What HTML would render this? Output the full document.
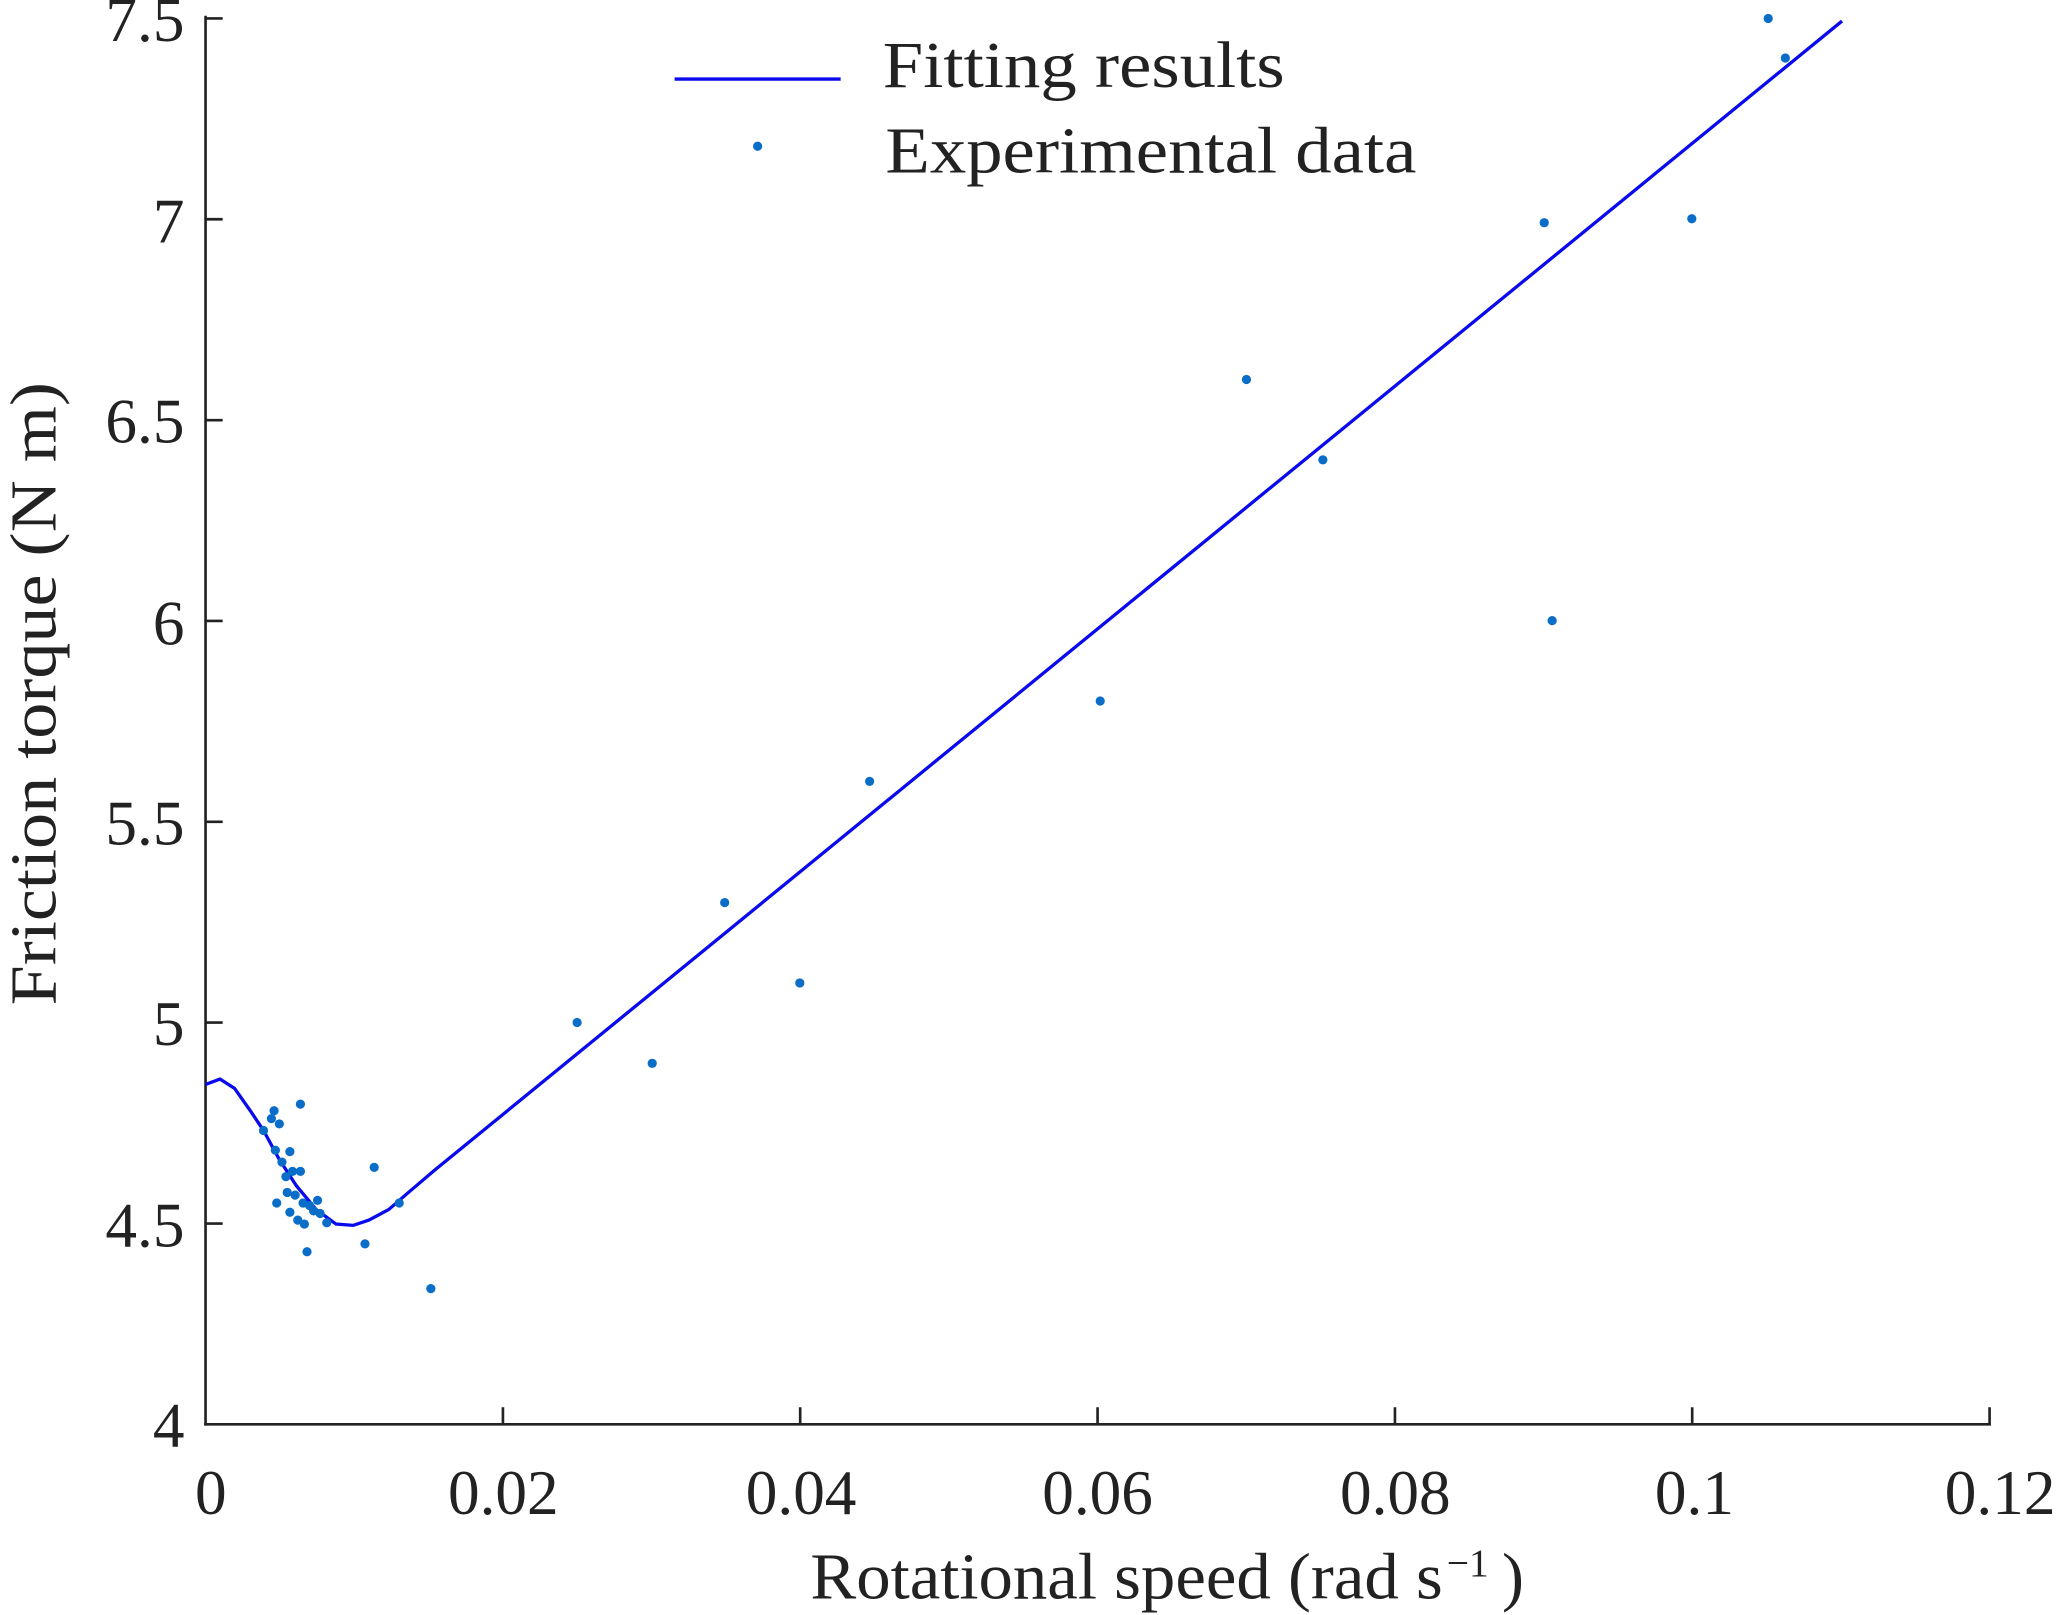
<!DOCTYPE html>
<html><head><meta charset="utf-8"><style>html,body{margin:0;padding:0;background:#fff}svg{display:block}</style></head>
<body>
<svg width="2066" height="1615" viewBox="0 0 1568 1225.7" preserveAspectRatio="none" xmlns="http://www.w3.org/2000/svg" font-family="Liberation Serif, serif" fill="#222">
<g stroke="#222" stroke-width="2" fill="none">
<line x1="156" y1="12" x2="156" y2="1082"/>
<line x1="155" y1="1081" x2="1511" y2="1081"/>
<path d="M381.7 1081v-13M607.3 1081v-13M833 1081v-13M1058.7 1081v-13M1284.3 1081v-13M1510 1081v-13"/>
<path d="M156 928.6h13M156 776.1h13M156 623.7h13M156 471.3h13M156 318.9h13M156 166.4h13M156 14h13"/>
</g>
<g font-size="48" text-anchor="end">
<text x="140" y="1098">4</text>
<text x="140" y="946">4.5</text>
<text x="140" y="793">5</text>
<text x="140" y="641">5.5</text>
<text x="140" y="489">6</text>
<text x="140" y="336">6.5</text>
<text x="140" y="184">7</text>
<text x="140" y="31">7.5</text>
</g>
<g font-size="48" text-anchor="middle">
<text x="160" y="1149">0</text>
<text x="382" y="1149">0.02</text>
<text x="608" y="1149">0.04</text>
<text x="833" y="1149">0.06</text>
<text x="1059" y="1149">0.08</text>
<text x="1286" y="1149">0.1</text>
<text x="1518" y="1149">0.12</text>
</g>
<text x="615" y="1213" font-size="50" textLength="480" lengthAdjust="spacingAndGlyphs">Rotational speed  (rad s</text>
<text x="1098" y="1196" font-size="30">−1</text>
<text x="1140" y="1213" font-size="50">)</text>
<text transform="translate(42,763) rotate(-90)" font-size="50" textLength="473" lengthAdjust="spacingAndGlyphs">Friction torque (N m)</text>
<polyline fill="none" stroke="#0a0aee" stroke-width="2.5" points="156,823 167,819 178,826 190,843 200,858 212,880 225,900 240,918 255,929 268,930 280,926 295,918 310,905 330,888 1398,16"/>
<g fill="#0a6ec8">
<circle cx="200" cy="858" r="3.5"/><circle cx="206" cy="849" r="3.5"/><circle cx="208" cy="843" r="3.5"/><circle cx="212" cy="853" r="3.5"/><circle cx="228" cy="838" r="3.5"/><circle cx="209" cy="873" r="3.5"/><circle cx="214" cy="882" r="3.5"/><circle cx="220" cy="874" r="3.5"/><circle cx="210" cy="913" r="3.5"/><circle cx="217" cy="893" r="3.5"/><circle cx="222" cy="889" r="3.5"/><circle cx="228" cy="889" r="3.5"/><circle cx="218" cy="905" r="3.5"/><circle cx="224" cy="907" r="3.5"/><circle cx="230" cy="913" r="3.5"/><circle cx="235" cy="915" r="3.5"/><circle cx="241" cy="911" r="3.5"/><circle cx="238" cy="919" r="3.5"/><circle cx="243" cy="921" r="3.5"/><circle cx="248" cy="928" r="3.5"/><circle cx="220" cy="920" r="3.5"/><circle cx="226" cy="926" r="3.5"/><circle cx="231" cy="929" r="3.5"/><circle cx="233" cy="950" r="3.5"/><circle cx="284" cy="886" r="3.5"/><circle cx="277" cy="944" r="3.5"/><circle cx="303" cy="913" r="3.5"/><circle cx="327" cy="978" r="3.5"/><circle cx="438" cy="776" r="3.5"/><circle cx="495" cy="807" r="3.5"/><circle cx="550" cy="685" r="3.5"/><circle cx="607" cy="746" r="3.5"/><circle cx="660" cy="593" r="3.5"/><circle cx="835" cy="532" r="3.5"/><circle cx="946" cy="288" r="3.5"/><circle cx="1004" cy="349" r="3.5"/><circle cx="1172" cy="169" r="3.5"/><circle cx="1178" cy="471" r="3.5"/><circle cx="1284" cy="166" r="3.5"/><circle cx="1342" cy="14" r="3.5"/><circle cx="1355" cy="44" r="3.5"/>
<circle cx="575" cy="111" r="3.5"/>
</g>
<line x1="512" y1="60" x2="638" y2="60" stroke="#0a0aee" stroke-width="2.5"/>
<text x="670" y="66" font-size="50" textLength="305" lengthAdjust="spacingAndGlyphs">Fitting results</text>
<text x="672" y="131" font-size="50" textLength="403" lengthAdjust="spacingAndGlyphs">Experimental data</text>
</svg>
</body></html>
